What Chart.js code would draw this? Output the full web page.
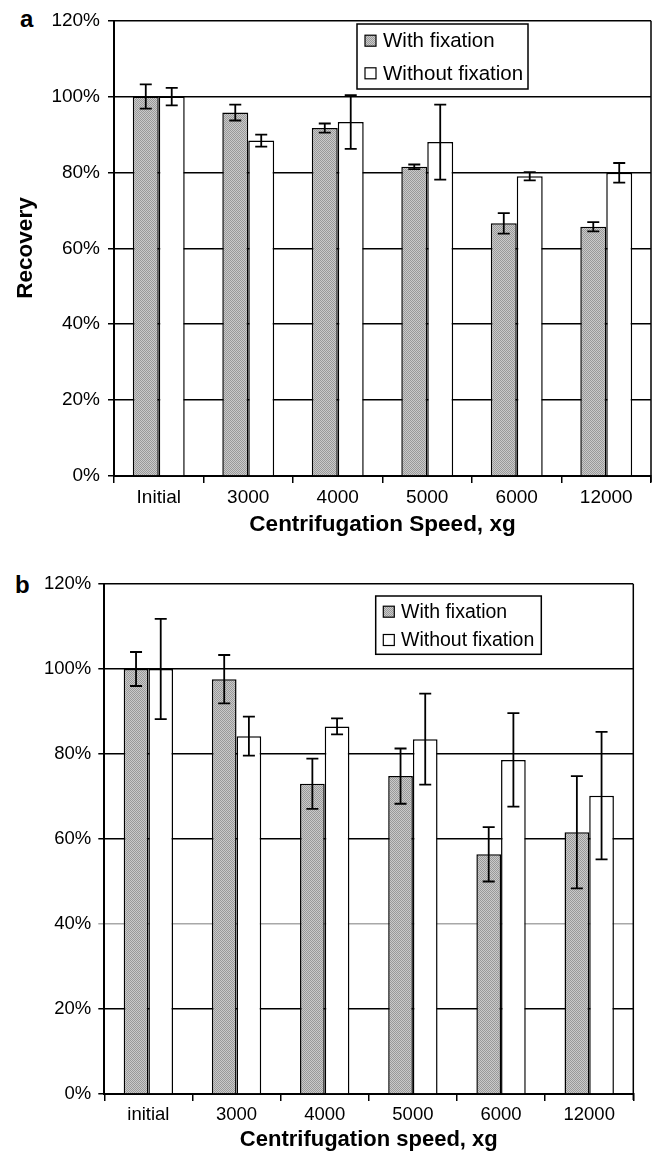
<!DOCTYPE html>
<html>
<head>
<meta charset="utf-8">
<script src="https://cdn.jsdelivr.net/npm/chart.js@4/dist/chart.umd.min.js"></script>
<style>
  html, body { margin:0; padding:0; background:#fff; }
  body { width:656px; height:1152px; position:relative; overflow:hidden; font-family:"Liberation Sans", Arial, sans-serif; }
  canvas { position:absolute; left:0; }
  .panel { position:absolute; font-weight:bold; font-size:24px; color:#000; line-height:1; }
</style>
</head>
<body>
<div class="panel" style="left:20px; top:7px;">a</div>
<div class="panel" style="left:15px; top:573px;">b</div>
<canvas id="cA" width="656" height="560" style="top:0px"></canvas>
<canvas id="cB" width="656" height="592" style="top:560px"></canvas>
<script>
// ---- Data ----
const seriesLabels = ['With fixation', 'Without fixation'];
const yTicks = [0, 20, 40, 60, 80, 100, 120];

const categoriesA = ['Initial', '3000', '4000', '5000', '6000', '12000'];
const withFixA = [100, 95.8, 91.7, 81.5, 66.6, 65.7];
const withFixErrA = [3.2, 2.1, 1.2, 0.6, 2.7, 1.2];
const withoutFixA = [100, 88.4, 93.3, 88.0, 79.0, 79.9];
const withoutFixErrA = [2.3, 1.6, 7.1, 9.9, 1.1, 2.6];
const xTitleA = 'Centrifugation Speed, xg';

const categoriesB = ['initial', '3000', '4000', '5000', '6000', '12000'];
const withFixB = [100, 97.6, 73.0, 74.8, 56.4, 61.6];
const withFixErrB = [4.0, 5.7, 5.9, 6.5, 6.4, 13.2];
const withoutFixB = [100, 84.2, 86.5, 83.5, 78.6, 70.2];
const withoutFixErrB = [11.8, 4.6, 1.9, 10.7, 11.0, 15.0];
const xTitleB = 'Centrifugation speed, xg';
const yTitle = 'Recovery';

// ---- Styles ----
const FONT = '"Liberation Sans", Arial, Helvetica, sans-serif';
function grayPattern() {
  const c = document.createElement('canvas');
  c.width = 2; c.height = 2;
  const g = c.getContext('2d');
  g.fillStyle = '#cacaca'; g.fillRect(0,0,2,2);
  g.fillStyle = '#999999'; g.fillRect(0,0,1,1); g.fillRect(1,1,1,1);
  return g.createPattern(c, 'repeat');
}

const decorPlugin = {
  id: 'decor',
  beforeDatasetsDraw(chart) {
    const ctx = chart.ctx, a = chart.chartArea;
    ctx.save();
    ctx.strokeStyle = '#000'; ctx.lineWidth = 1.5;
    ctx.beginPath(); ctx.moveTo(a.right, a.top); ctx.lineTo(a.right, a.bottom + 6); ctx.stroke();
    ctx.restore();
  },
  afterDatasetsDraw(chart) {
    const o = chart.options.plugins.decor;
    const ctx = chart.ctx, a = chart.chartArea, ys = chart.scales.y;
    ctx.save();
    // error bars
    ctx.strokeStyle = '#000'; ctx.lineWidth = 1.8;
    chart.data.datasets.forEach((ds, di) => {
      const meta = chart.getDatasetMeta(di);
      meta.data.forEach((bar, i) => {
        const v = ds.data[i], e = ds.errors[i];
        const x = bar.x;
        const yt = ys.getPixelForValue(v + e), yb = ys.getPixelForValue(v - e);
        const hw = o.capHalf;
        ctx.beginPath();
        ctx.moveTo(x, yt); ctx.lineTo(x, yb);
        ctx.moveTo(x - hw, yt); ctx.lineTo(x + hw, yt);
        ctx.moveTo(x - hw, yb); ctx.lineTo(x + hw, yb);
        ctx.stroke();
      });
    });
    // legend
    const L = o.legend;
    ctx.fillStyle = '#fff';
    ctx.fillRect(L.x, L.y, L.w, L.h);
    ctx.strokeStyle = '#000'; ctx.lineWidth = 1.5;
    ctx.strokeRect(L.x, L.y, L.w, L.h);
    ctx.font = L.fontSize + 'px ' + FONT;
    ctx.textBaseline = 'middle'; ctx.textAlign = 'left';
    chart.data.datasets.forEach((ds, di) => {
      const cy = L.rows[di];
      ctx.fillStyle = ds.backgroundColor;
      ctx.fillRect(L.sx, cy - L.sq/2, L.sq, L.sq);
      ctx.lineWidth = 1.2; ctx.strokeStyle = '#000';
      ctx.strokeRect(L.sx, cy - L.sq/2, L.sq, L.sq);
      ctx.fillStyle = '#000';
      ctx.fillText(ds.label, L.tx, cy + 1);
    });
    // axis titles
    ctx.font = 'bold ' + o.titleSize + 'px ' + FONT;
    ctx.fillStyle = '#000';
    ctx.textAlign = 'center'; ctx.textBaseline = 'middle';
    ctx.fillText(o.xTitle, (a.left + a.right) / 2, o.xTitleY);
    ctx.save();
    ctx.translate(o.yTitleX, o.yTitleYc);
    ctx.rotate(-Math.PI / 2);
    ctx.fillText(o.yTitle, 0, 0);
    ctx.restore();
    ctx.restore();
  }
};

function makeChart(id, cfg) {
  const pat = grayPattern();
  return new Chart(document.getElementById(id), {
    type: 'bar',
    data: {
      labels: cfg.labels,
      datasets: [
        { label: seriesLabels[0], data: cfg.s1, errors: cfg.e1, backgroundColor: pat,
          borderColor: '#000', borderWidth: 1.5, categoryPercentage: cfg.catPct, barPercentage: 1.0 },
        { label: seriesLabels[1], data: cfg.s2, errors: cfg.e2, backgroundColor: '#ffffff',
          borderColor: '#000', borderWidth: 1.5, categoryPercentage: cfg.catPct, barPercentage: 1.0 }
      ]
    },
    options: {
      responsive: false,
      animation: false,
      layout: { padding: { left: 0, right: cfg.padRight, top: cfg.padTop, bottom: 0 } },
      plugins: {
        legend: { display: false },
        tooltip: { enabled: false },
        decor: {
          capHalf: 6,
          legend: cfg.legend,
          xTitle: cfg.xTitle, xTitleY: cfg.xTitleY, titleSize: cfg.titleSize,
          yTitle: yTitle, yTitleX: cfg.yTitleX, yTitleYc: cfg.yTitleYc
        }
      },
      scales: {
        x: {
          offset: true,
          grid: { display: true, drawOnChartArea: false, offset: true, color: '#000', lineWidth: 1.5, tickLength: 7 },
          border: { display: true, color: '#000', width: 2 },
          ticks: { color: '#000', font: { family: FONT, size: cfg.tickSize }, padding: cfg.xTickPad, maxRotation: 0 },
          afterFit: (s) => { s.height = cfg.xHeight; }
        },
        y: {
          min: yTicks[0], max: yTicks[yTicks.length - 1],
          afterBuildTicks: (s) => { s.ticks = yTicks.map(v => ({ value: v })); },
          grid: { color: (c) => (cfg.lightTick !== undefined && c.tick && c.tick.value === cfg.lightTick) ? '#a8a8a8' : '#000',
                  lineWidth: 1.5, tickLength: 6, drawTicks: true },
          border: { display: true, color: '#000', width: 2 },
          ticks: { color: '#000', font: { family: FONT, size: cfg.tickSize }, padding: cfg.yTickPad,
                   callback: (v) => v + '%' },
          afterFit: (s) => { s.width = cfg.yWidth; }
        }
      }
    },
    plugins: [decorPlugin]
  });
}

makeChart('cA', {
  labels: categoriesA, s1: withFixA, e1: withFixErrA, s2: withoutFixA, e2: withoutFixErrA,
  catPct: 0.58, padRight: 5, padTop: 20.7, yWidth: 114, xHeight: 84,
  tickSize: 19, titleSize: 22.5, xTickPad: 3, yTickPad: 8,
  xTitle: xTitleA, xTitleY: 525, yTitleX: 26, yTitleYc: 248,
  legend: { x: 357, y: 24, w: 171, h: 65, sx: 365, sq: 11, tx: 383, rows: [40.7, 73.3], fontSize: 20.5 }
});

makeChart('cB', {
  labels: categoriesB, s1: withFixB, e1: withFixErrB, s2: withoutFixB, e2: withoutFixErrB,
  catPct: 0.56, padRight: 656 - 633.3, padTop: 24, yWidth: 104.3, xHeight: 592 - 534,
  tickSize: 18.5, titleSize: 22, xTickPad: 3, yTickPad: 7, lightTick: 40,
  xTitle: xTitleB, xTitleY: 580, yTitleX: 17, yTitleYc: 832,
  legend: { x: 375.7, y: 36, w: 165.6, h: 58.3, sx: 383.3, sq: 11, tx: 401, rows: [51.7, 80], fontSize: 19.5 }
});
</script>
</body>
</html>
